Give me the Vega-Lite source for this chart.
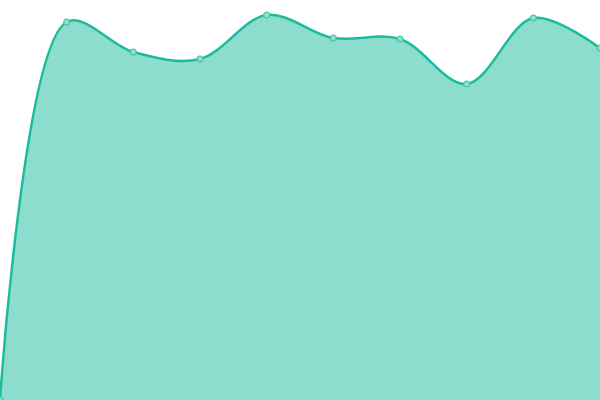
{
  "$schema": "https://vega.github.io/schema/vega-lite/v6.json",
  "autosize": {"type": "none"},
  "width": 600,
  "height": 400,
  "padding": 0,
  "background": "white",
  "data": {
    "values": [
      {"i": 0, "v": 0},
      {"i": 1, "v": 378},
      {"i": 2, "v": 348},
      {"i": 3, "v": 341},
      {"i": 4, "v": 385},
      {"i": 5, "v": 362},
      {"i": 6, "v": 361},
      {"i": 7, "v": 316},
      {"i": 8, "v": 382},
      {"i": 9, "v": 352}
    ]
  },
  "encoding": {
    "x": {"field": "i", "type": "quantitative", "scale": {"domain": [0, 9], "nice": false, "zero": false}, "axis": null},
    "y": {"field": "v", "type": "quantitative", "scale": {"domain": [0, 400], "nice": false}, "axis": null}
  },
  "layer": [
    {
      "mark": {"type": "area", "interpolate": "catmull-rom", "color": "#1abc9c", "opacity": 0.5}
    },
    {
      "mark": {"type": "line", "interpolate": "catmull-rom", "color": "#1abc9c", "strokeWidth": 2.5}
    },
    {
      "mark": {"type": "point", "filled": false, "fill": "#8ce0cf", "fillOpacity": 1, "stroke": "#3fc4a8", "strokeWidth": 1.2, "size": 36, "opacity": 1}
    }
  ],
  "config": {"view": {"stroke": null}}
}
